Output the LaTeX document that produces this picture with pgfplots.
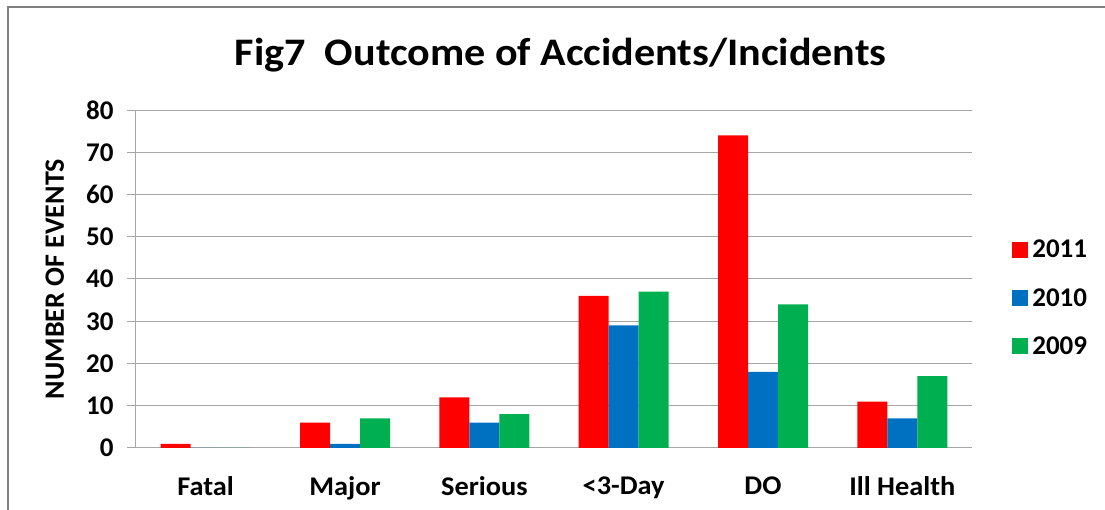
\documentclass[border=0pt]{standalone}
\usepackage{fontspec}
\setmainfont{Carlito}
\newfontfamily\titlefont[FakeStretch=1.08]{Carlito}
\newfontfamily\widefont[FakeStretch=1.05]{Carlito}
\usepackage{pgfplots}
\pgfplotsset{compat=1.18}

\definecolor{red11}{HTML}{FF0000}
\definecolor{blue10}{HTML}{0070C0}
\definecolor{green09}{HTML}{00B050}
\definecolor{gridgray}{HTML}{A6A6A6}
\definecolor{framegray}{HTML}{7F7F7F}

\begin{document}
\begin{tikzpicture}[x=1pt,y=1pt]
  \useasboundingbox (-136,-62) rectangle (969,448);
  % outer chart frame (only left and top edges are in view)
  \draw[framegray, line width=2.5pt] (-128,-62) -- (-128,441) -- (969,441);

  \begin{axis}[
    at={(0,0)}, anchor=south west,
    scale only axis,
    width=836pt, height=338pt,
    ybar=0pt, bar width=30pt,
    xmin=-0.5, xmax=5.5,
    ymin=0, ymax=80,
    ytick={0,10,...,80},
    xtick={0,1,2,3,4,5},
    xticklabels={Fatal, Major, Serious, {<3-Day}, DO, Ill Health},
    /pgf/number format/assume math mode=true,
    ticklabel style={font=\fontsize{27}{30}\selectfont\bfseries},
    x tick label style={font=\widefont\fontsize{27}{30}\selectfont\bfseries, yshift=-16pt},
    y tick label style={xshift=-10pt},
    x tick style={draw=none},
    y tick style={gridgray, line width=1pt},
    tick align=outside,
    major tick length=9pt,
    xtick pos=bottom, ytick pos=left,
    ymajorgrids,
    grid style={gridgray, line width=1pt},
    axis x line*=bottom, axis y line*=left,
    axis line style={gridgray, line width=1pt},
    ylabel={NUMBER OF EVENTS},
    ylabel style={font=\fontsize{28}{30}\selectfont\bfseries,
      at={(axis description cs:-0.097,0.5)}, anchor=center},
    title={Fig7\ \ Outcome of Accidents/Incidents},
    title style={font=\titlefont\fontsize{39}{42}\selectfont\bfseries,
      at={(axis description cs:0.508,1.145)}, anchor=center},
    legend style={draw=none, fill=none, at={(axis description cs:1.048,0.444)},
      anchor=west, font=\fontsize{27}{30}\selectfont\bfseries,
      row sep=29pt, inner sep=0pt, nodes={inner xsep=4pt, inner ysep=0pt}},
    legend cell align=left,
    legend image code/.code={\draw[#1,draw=none] (0pt,-8pt) rectangle (16pt,8pt);},
  ]
    \addplot[fill=red11, draw=none] coordinates {(0,1) (1,6) (2,12) (3,36) (4,74) (5,11)};
    \addplot[fill=blue10, draw=none] coordinates {(0,0) (1,1) (2,6) (3,29) (4,18) (5,7)};
    \addplot[fill=green09, draw=none] coordinates {(0,0) (1,7) (2,8) (3,37) (4,34) (5,17)};
    \legend{2011, 2010, 2009}
  \end{axis}
\end{tikzpicture}
\end{document}
